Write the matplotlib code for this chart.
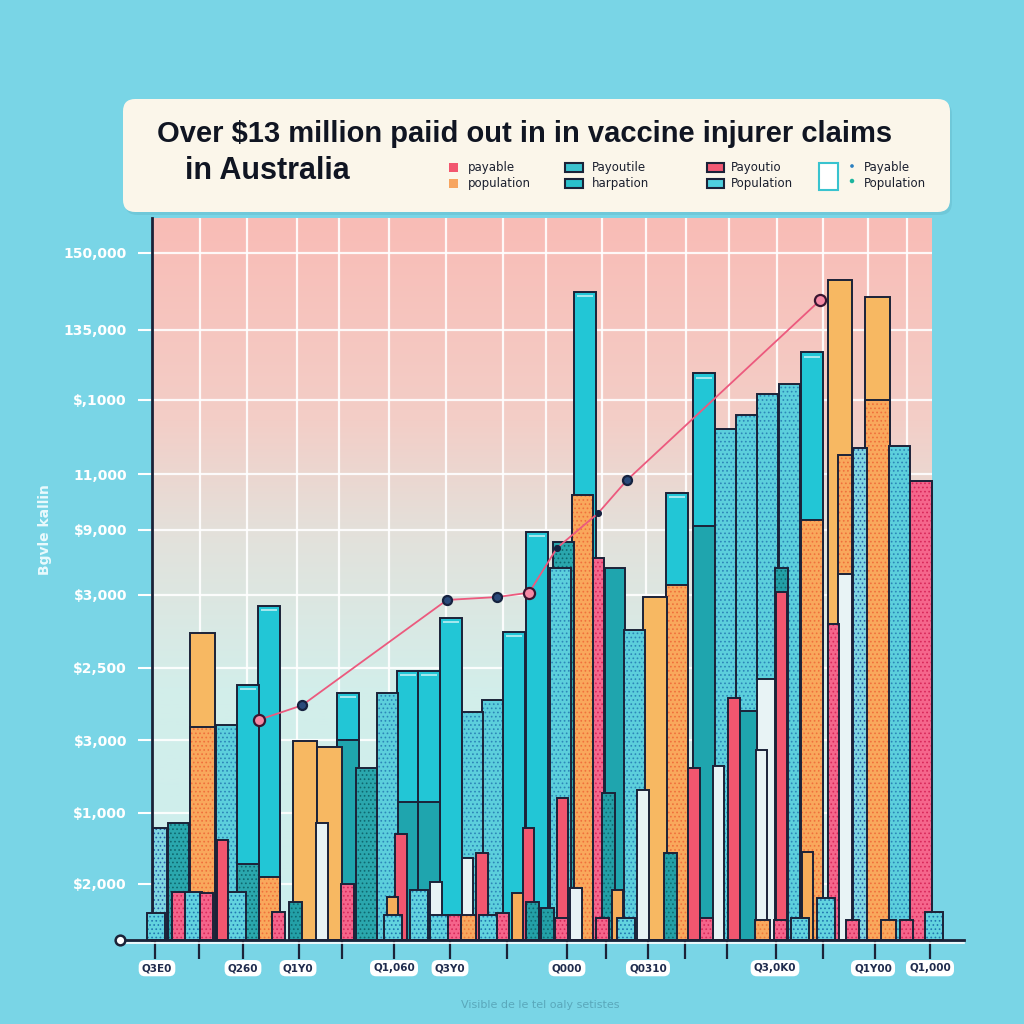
import numpy as np
import matplotlib
matplotlib.use("Agg")
import matplotlib.pyplot as plt
from matplotlib.patches import FancyBboxPatch, Rectangle
from matplotlib.colors import to_rgb

# ---- data (week slot, claim value) ----
cyan_x = [4.78, 5.83, 9.8, 12.8, 13.85, 14.95, 18.1, 19.23, 21.65, 26.23, 27.58, 32.98]
cyan_v = [3.53, 4.63, 3.42, 3.73, 3.73, 4.46, 4.27, 5.65, 8.98, 6.19, 7.85, 8.14]
teal_x = [23.15]
teal_v = [5.15]
cyan_dot_x = [3.73, 11.75, 16.03, 17.03, 20.4, 24.13, 28.65, 29.7, 30.78, 31.85, 37.38]
cyan_dot_v = [2.98, 3.42, 3.16, 3.32, 5.15, 4.29, 7.08, 7.27, 7.56, 7.70, 6.84]
blue_dot_x = [0.4, 35.4]
blue_dot_v = [1.55, 6.81]
teal_dot_x = [1.33, 10.73, 20.55]
teal_dot_v = [1.62, 2.38, 5.51]
orange_x = [2.53, 7.65, 8.88, 25.15, 34.4, 36.28]
orange_v = [4.25, 2.76, 2.67, 4.75, 9.14, 8.91]
orange_dot_x = [21.53]
orange_dot_v = [6.16]
orange_dot_n_x = [34.65]
orange_dot_n_v = [6.72]
pink_dot_x = [38.45]
pink_dot_v = [6.36]
pink_dot_n_x = [22.33, 34.05]
pink_dot_n_v = [5.29, 4.38]
red_x = [3.53, 12.45, 16.5, 18.83, 20.53, 27.1, 29.1, 31.48]
red_v = [1.39, 1.47, 1.20, 1.55, 1.97, 2.38, 3.35, 4.82]
white_x = [8.5, 14.2, 15.78, 21.2, 24.55, 28.33, 30.48]
white_v = [1.62, 0.80, 1.14, 0.72, 2.08, 2.41, 2.63]
orange_sm_x = [12.0, 18.28, 23.28, 32.75]
orange_sm_v = [0.60, 0.65, 0.69, 1.22]
teal_sm_x = [7.15, 19.03, 19.78, 22.8, 25.9, 31.48]
teal_sm_v = [0.53, 0.53, 0.44, 2.04, 1.20, 5.15]
base_cyan_x = [0.2, 2.03, 4.23, 12.03, 13.35, 14.33, 16.78, 23.7, 32.4, 33.7, 39.08]
base_cyan_v = [0.37, 0.66, 0.66, 0.35, 0.69, 0.35, 0.35, 0.30, 0.30, 0.58, 0.39]
base_pink_x = [1.33, 2.73, 6.33, 9.78, 15.1, 17.53, 20.48, 22.53, 27.7, 31.43, 35.03, 37.73]
base_pink_v = [0.66, 0.65, 0.39, 0.78, 0.35, 0.37, 0.30, 0.30, 0.30, 0.28, 0.28, 0.28]
base_orange_x = [15.83, 30.53, 36.83]
base_orange_v = [0.35, 0.28, 0.28]

# lower sections of two-tone bars
low_teal_x = [9.8, 12.8, 13.85, 27.58, 29.7]
low_teal_v = [2.77, 1.91, 1.91, 5.73, 3.17]
low_orange_x = [5.83, 26.23, 32.98, 2.53, 36.28]
low_orange_v = [0.87, 4.92, 5.82, 2.95, 7.48]
low_tealdot_x = [4.78]
low_tealdot_v = [1.05]
low_white_x = [30.78, 34.65]
low_white_v = [3.61, 5.07]

trend_x = [5.35, 7.5, 14.75, 17.25, 18.85, 20.25, 22.3, 23.75, 33.4]
trend_v = [3.05, 3.25, 4.71, 4.75, 4.81, 5.43, 5.91, 6.37, 8.86]
trend_kind = ["pink", "navy", "navy", "navy", "pink", "dot", "dot", "navy", "pink"]

ytick_v = [0.78, 1.76, 2.77, 3.77, 4.78, 5.68, 6.45, 7.48, 8.45, 9.52]
ytick_lbl = ["$2,000", "$1,000", "$3,000", "$2,500", "$3,000", "$9,000",
             "11,000", "$,1000", "135,000", "150,000"]
grid_x = [2.4, 4.75, 7.25, 9.35, 11.85, 14.7, 17.55, 19.7, 22.5, 24.7, 26.7,
          28.85, 31.25, 33.55, 35.8, 37.75]
xtick_x = [0.15, 2.35, 4.55, 7.35, 9.5, 12.1, 14.9, 17.75, 20.75, 22.7, 24.8,
           26.65, 28.75, 31.2, 33.55, 36.15, 38.9]
xlabel_x = [0.25, 4.55, 7.3, 12.1, 14.9, 20.75, 24.8, 31.15, 36.05, 38.9]
xlabel_txt = ["Q3E0", "Q260", "Q1Y0", "Q1,060", "Q3Y0", "Q000", "Q0310",
              "Q3,0K0", "Q1Y00", "Q1,000"]

BG = "#79d5e6"
EDGE = "#1b2238"
NAVY = "#1f2b4d"

STYLE = {
    "cyan": dict(face="#22c6d6", dots=None, w=1.1),
    "teal": dict(face="#1fa5ae", dots=None, w=1.0),
    "cyan_dot": dict(face="#5ccfdc", dots="#2c86b8", w=1.05),
    "blue_dot": dict(face="#7fd6e2", dots="#2a5fa8", w=0.7),
    "teal_dot": dict(face="#2aa7ad", dots="#0f6870", w=1.05),
    "orange": dict(face="#f7b862", dots=None, w=1.22),
    "orange_dot": dict(face="#f9a85c", dots="#f0703c", w=1.05),
    "orange_dot_n": dict(face="#f9a85c", dots="#f0703c", w=0.7),
    "pink_dot": dict(face="#f5668c", dots="#d9285b", w=1.1),
    "pink_dot_n": dict(face="#f5668c", dots="#d9285b", w=0.55),
    "red": dict(face="#f2566f", dots=None, w=0.58),
    "white": dict(face="#e8f3f5", dots=None, w=0.58),
    "orange_sm": dict(face="#f7ad5a", dots=None, w=0.55),
    "teal_sm": dict(face="#23a0a7", dots="#0f6a72", w=0.65),
    "base_cyan": dict(face="#62d3df", dots="#2177b0", w=0.9),
    "base_pink": dict(face="#f5648b", dots="#d72a5b", w=0.65),
    "base_orange": dict(face="#f8a85e", dots="#ee7a3a", w=0.75),
}

series = [
    ("cyan", cyan_x, cyan_v), ("teal", teal_x, teal_v),
    ("cyan_dot", cyan_dot_x, cyan_dot_v), ("blue_dot", blue_dot_x, blue_dot_v),
    ("teal_dot", teal_dot_x, teal_dot_v), ("orange", orange_x, orange_v),
    ("orange_dot", orange_dot_x, orange_dot_v),
    ("orange_dot_n", orange_dot_n_x, orange_dot_n_v),
    ("pink_dot", pink_dot_x, pink_dot_v), ("pink_dot_n", pink_dot_n_x, pink_dot_n_v),
    ("red", red_x, red_v), ("white", white_x, white_v),
    ("orange_sm", orange_sm_x, orange_sm_v), ("teal_sm", teal_sm_x, teal_sm_v),
    ("base_cyan", base_cyan_x, base_cyan_v), ("base_pink", base_pink_x, base_pink_v),
    ("base_orange", base_orange_x, base_orange_v),
]
lowers = [
    ("teal", low_teal_x, low_teal_v), ("orange_dot", low_orange_x, low_orange_v),
    ("teal_dot", low_tealdot_x, low_tealdot_v), ("white", low_white_x, low_white_v),
]

plt.rcParams["hatch.linewidth"] = 0.7
TITLE_FONT = ["Liberation Sans", "DejaVu Sans"]

fig = plt.figure(figsize=(10.24, 10.24), dpi=100, facecolor=BG)
ax = fig.add_axes([152 / 1024, 84 / 1024, 780 / 1024, 722 / 1024])
ax.set_xlim(0, 39)
ax.set_ylim(0, 10)

# gradient background pink -> pale cyan
stops = [(0.0, "#f9bcb6"), (0.28, "#f3cec7"), (0.45, "#e2e2dc"), (0.65, "#d3eeea"), (1.0, "#cbeeee")]
t = np.linspace(0, 1, 256)
grad = np.zeros((256, 1, 3))
for c in range(3):
    grad[:, 0, c] = np.interp(t, [s[0] for s in stops], [to_rgb(s[1])[c] for s in stops])
ax.imshow(grad, extent=[0, 39, 0, 10], aspect="auto", origin="upper", zorder=0)

for gx in grid_x:
    ax.axvline(gx, color="white", lw=1.6, alpha=0.9, zorder=0.5)
for gy in ytick_v:
    ax.axhline(gy, color="white", lw=1.6, alpha=0.9, zorder=0.5)


def zof(v):
    return 2 + (12 - v) * 0.5


def draw(x, v, st, z):
    kw = dict(width=st["w"], zorder=z, clip_on=False)
    if st["dots"]:
        ax.bar(x, v, color=st["face"], edgecolor=st["dots"], hatch="....", linewidth=0, **kw)
    else:
        ax.bar(x, v, color=st["face"], linewidth=0, **kw)
    ax.bar(x, v, fill=False, edgecolor=EDGE, linewidth=1.4, **kw)


parent = {}
for name, xs, vs in series:
    for x, v in zip(xs, vs):
        draw(x, v, STYLE[name], zof(v))
        if name in ("cyan", "cyan_dot", "orange", "orange_dot_n"):
            parent[x] = (v, STYLE[name]["w"])
            if name == "cyan":
                # light highlight just under the top edge
                ax.plot([x - 0.4, x + 0.4], [v - 0.06, v - 0.06], color="white",
                        lw=1.2, alpha=0.7, zorder=zof(v) + 0.001, solid_capstyle="butt")

for name, xs, vs in lowers:
    for x, v in zip(xs, vs):
        pv, pw = parent[x]
        draw(x, v, dict(STYLE[name], w=pw), zof(pv) + 0.01)

# trend line
ax.plot(trend_x, trend_v, color="#ec5a7e", lw=1.3, zorder=30, clip_on=False)
MK = {"pink": dict(ms=8, mfc="#f58aa5", mec="#3a1530"),
      "navy": dict(ms=6.5, mfc="#2a4a7a", mec="#16223f"),
      "dot": dict(ms=3.5, mfc="#16223f", mec="#16223f")}
for x, v, k in zip(trend_x, trend_v, trend_kind):
    ax.plot(x, v, "o", mew=1.6, zorder=31, clip_on=False, **MK[k])

# axes styling
for s in ["top", "right", "bottom"]:
    ax.spines[s].set_visible(False)
ax.spines["left"].set_color(EDGE)
ax.spines["left"].set_linewidth(2)
ax.plot([-1.6, 40.6], [0, 0], color=EDGE, lw=2, zorder=40, clip_on=False)
ax.plot([-1.6, 40.6], [-0.035, -0.035], color="white", lw=1.2, zorder=39, clip_on=False)
ax.plot(-1.6, 0, "o", ms=7, mfc="white", mec=EDGE, mew=1.8, zorder=41, clip_on=False)

ax.set_yticks(ytick_v)
ax.set_yticklabels(ytick_lbl)
ax.tick_params(axis="y", colors="white", length=10, width=1.5, pad=8, labelsize=10)
for lab in ax.get_yticklabels():
    lab.set_fontweight("bold")

ax.set_xticks(xtick_x)
ax.set_xticklabels([])
ax.tick_params(axis="x", colors=EDGE, length=14, width=1.6, direction="out")

for x, txt in zip(xlabel_x, xlabel_txt):
    ax.text(x, -0.39, txt, ha="center", va="center",
            fontsize=7.5, fontweight="bold", color=NAVY, clip_on=False,
            bbox=dict(boxstyle="round,pad=0.3,rounding_size=0.6", fc="white", ec="none"))

fig.text(45 / 1024, 1 - 530 / 1024, "Bgvle kallin", rotation=90, ha="center", va="center",
         color="#eafafd", fontsize=10, fontweight="bold")
fig.text(540 / 1024, 1 - 1005 / 1024, "Visible de le tel oaly setistes", ha="center",
         va="center", color="#5aa8bb", fontsize=8)

# title box
fig.patches.append(FancyBboxPatch((125 / 1024, 1 - 215 / 1024), 827 / 1024, 113 / 1024,
                                  boxstyle="round,pad=0,rounding_size=0.012",
                                  transform=fig.transFigure, fc="#66bccd", ec="none",
                                  alpha=0.5, zorder=1))
fig.patches.append(FancyBboxPatch((123 / 1024, 1 - 212 / 1024), 827 / 1024, 113 / 1024,
                                  boxstyle="round,pad=0,rounding_size=0.012",
                                  transform=fig.transFigure, fc="#fbf6ea", ec="none",
                                  zorder=2))
fig.text(157 / 1024, 1 - 134 / 1024, "Over $13 million paiid out in in vaccine injurer claims",
         family=TITLE_FONT, fontweight="bold", fontsize=21, color="#101522",
         ha="left", va="center", zorder=3)
fig.text(185 / 1024, 1 - 171 / 1024, "in Australia", family=TITLE_FONT, fontweight="bold",
         fontsize=22, color="#101522", ha="left", va="center", zorder=3)


# legend inside title box
def fig_rect(x0, y0, x1, y1, **kw):
    fig.patches.append(Rectangle((x0 / 1024, 1 - y1 / 1024), (x1 - x0) / 1024, (y1 - y0) / 1024,
                                 transform=fig.transFigure, zorder=4, **kw))


leg_rows = [167, 183]
fig_rect(449, 163, 458, 172, fc="#f2566f", ec="none")
fig_rect(449, 179, 458, 188, fc="#f7a560", ec="none")
fig_rect(565, 163, 583, 172, fc="#3bc3cf", ec=EDGE, lw=1.5)
fig_rect(565, 179, 583, 188, fc="#2ac0cc", ec=EDGE, lw=1.5)
fig_rect(707, 163, 724, 172, fc="#f25a74", ec=EDGE, lw=1.5)
fig_rect(707, 179, 724, 188, fc="#4fd0df", ec=EDGE, lw=1.5)
fig_rect(819, 163, 838, 190, fc="white", ec="#39c3cf", lw=1.5)
fig.patches.append(plt.Circle((852 / 1024, 1 - 166 / 1024), 0.0018, transform=fig.transFigure,
                              fc="#2b7fc0", zorder=4))
fig.patches.append(plt.Circle((852 / 1024, 1 - 181 / 1024), 0.0022, transform=fig.transFigure,
                              fc="#1cb59e", zorder=4))
leg_txt = [(468, ["payable", "population"]), (592, ["Payoutile", "harpation"]),
           (731, ["Payoutio", "Population"]), (864, ["Payable", "Population"])]
for lx, pair in leg_txt:
    for ly, txt in zip(leg_rows, pair):
        fig.text(lx / 1024, 1 - ly / 1024, txt, ha="left", va="center", fontsize=8.5,
                 color="#1a1f2e", zorder=5)

fig.savefig("out.png", dpi=100, facecolor=BG)
